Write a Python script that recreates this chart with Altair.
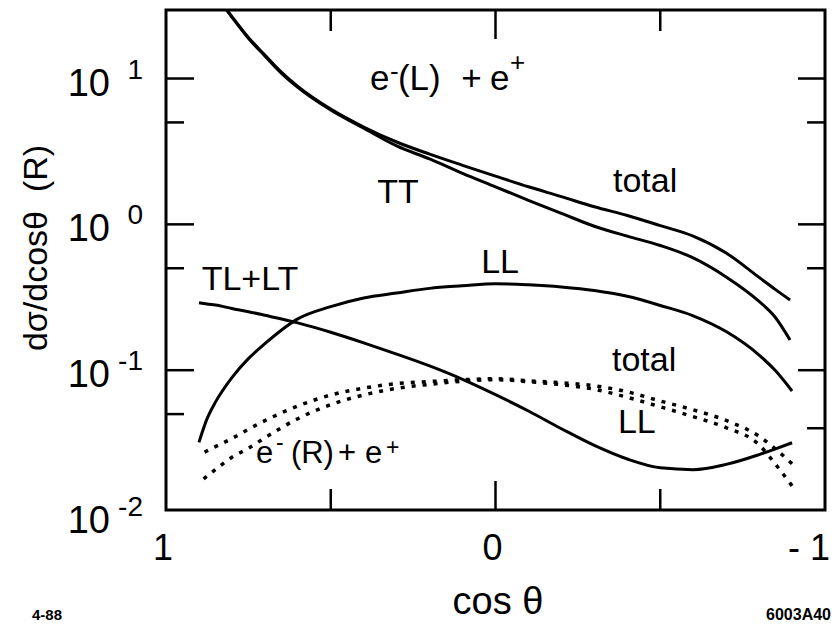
import altair as alt
import pandas as pd

# ---------------- data ----------------
# e-(L) + e+ : total and TT (they leave the top of the frame near cos=0.82)
cos_L_top = [0.815, 0.8, 0.75, 0.7, 0.65, 0.6, 0.5, 0.4, 0.3, 0.2, 0.1, 0.0, -0.1, -0.2,
             -0.3, -0.4, -0.5, -0.6, -0.7, -0.8, -0.85, -0.894]
total_L = [29.5, 26.6, 19.1, 14.5, 11.07, 8.83, 6.17, 4.65, 3.67, 3.03, 2.54, 2.14, 1.81, 1.55,
           1.32, 1.15, 0.98, 0.83, 0.636, 0.433, 0.357, 0.303]
tt_L = [29.3, 26.4, 18.9, 14.3, 10.9, 8.7, 6.08, 4.56, 3.45, 2.81, 2.24, 1.81, 1.46, 1.19,
        0.97, 0.83, 0.716, 0.589, 0.436, 0.296, 0.229, 0.161]

cos_grid = [0.9, 0.875, 0.85, 0.8, 0.75, 0.7, 0.6, 0.5, 0.4, 0.3, 0.2, 0.1, 0.0,
            -0.1, -0.2, -0.3, -0.4, -0.5, -0.6, -0.7, -0.8, -0.85, -0.9]
ll_L = [0.032, 0.0467, 0.0604, 0.089, 0.120, 0.152, 0.225, 0.273, 0.313, 0.338, 0.364,
        0.379, 0.392, 0.385, 0.372, 0.352, 0.321, 0.278, 0.236, 0.184, 0.127, 0.099, 0.072]
tl_lt_L = [0.29, 0.284, 0.280, 0.265, 0.252, 0.238, 0.211, 0.182, 0.154, 0.129, 0.107,
           0.0866, 0.068, 0.0525, 0.0397, 0.0305, 0.0246, 0.0214, 0.0208, 0.0226, 0.0264,
           0.0289, 0.0318]
# e-(R) + e+ : total and LL (dotted)
total_R = [0.026, 0.028, 0.0299, 0.034, 0.0394, 0.0451, 0.0568, 0.0676, 0.0753, 0.081,
           0.0836, 0.086, 0.0874, 0.0847, 0.082, 0.0782, 0.0711, 0.0615, 0.0535, 0.0452,
           0.0352, 0.0288, 0.0228]
ll_R = [0.0169, 0.0188, 0.0208, 0.0253, 0.0291, 0.0344, 0.0465, 0.0581, 0.0676, 0.0751,
        0.080, 0.0841, 0.086, 0.0834, 0.0795, 0.074, 0.0652, 0.0561, 0.048, 0.0404,
        0.0308, 0.0226, 0.0161]

# axis ticks / labels
x_major = [0.0]
x_minor = [0.5, -0.5]
y_major = [10, 1, 0.1]
y_minor_left = [5, 0.5, 0.05]
y_minor_right = [5, 0.5, 0.04]
y_label_values = [10, 1, 0.1, 0.01]
y_label_exps = ["1", "0", "-1", "-2"]

# curve annotations (centre x in cos, baseline in value)
curve_label_text = ["TT", "total", "LL", "TL+LT", "total", "LL"]
curve_label_cos = [0.296, -0.454, -0.014, 0.745, -0.451, -0.429]
curve_label_val = [1.394, 1.66, 0.4605, 0.352, 0.0992, 0.0372]

# reaction labels, split into pieces (left edge in cos, baseline in value)
upper_text = ["e", "(L)", "+", "e"]
upper_cos = [0.381, 0.296, 0.104, 0.0167]
upper_val = [8.34, 8.34, 8.34, 8.34]
upper_sup_text = ["-", "+"]
upper_sup_cos = [0.320, -0.044]
upper_sup_val = [11.08, 12.78]

lower_text = ["e", "(R)", "+", "e"]
lower_cos = [0.727, 0.621, 0.478, 0.396]
lower_val = [0.0231, 0.0231, 0.0231, 0.0231]
lower_sup_text = ["-", "+"]
lower_sup_cos = [0.666, 0.332]
lower_sup_val = [0.0318, 0.0293]

# ---------------- tables ----------------
rows = []
for name, xs_, ys_, style in [
    ("total L", cos_L_top, total_L, "solid"),
    ("TT L", cos_L_top, tt_L, "solid"),
    ("LL L", cos_grid, ll_L, "solid"),
    ("TL+LT L", cos_grid, tl_lt_L, "solid"),
    ("total R", cos_grid, total_R, "dot"),
    ("LL R", cos_grid, ll_R, "dot"),
]:
    for c, v in zip(xs_, ys_):
        rows.append({"cos": c, "value": v, "curve": name, "style": style})
df = pd.DataFrame(rows)

FONT = "Liberation Sans"
W, H = 659, 500

xs = alt.Scale(domain=[-1, 1], reverse=True, nice=False, zero=False)
ys = alt.Scale(type="log", domain=[0.011, 29.5], nice=False)
X = alt.X("cos:Q", scale=xs, axis=None)
Y = alt.Y("value:Q", scale=ys, axis=None)

solid = alt.Chart(df).transform_filter("datum.style == 'solid'").mark_line(
    color="black", strokeWidth=3, interpolate="monotone", clip=True
).encode(x=X, y=Y, detail="curve:N", order="cos:Q")

dotted = alt.Chart(df).transform_filter("datum.style == 'dot'").mark_line(
    color="black", strokeWidth=3.5, strokeDash=[4, 7], strokeCap="butt",
    interpolate="monotone", clip=True
).encode(x=X, y=Y, detail="curve:N", order="cos:Q")

# ticks (inside the frame)
def xticks(vals, length):
    d = pd.DataFrame({"cos": vals})
    top = alt.Chart(d).mark_rule(color="black", strokeWidth=2.5).encode(
        x=X, y=alt.value(0), y2=alt.value(length))
    bot = alt.Chart(d).mark_rule(color="black", strokeWidth=2.5).encode(
        x=X, y=alt.value(H), y2=alt.value(H - length))
    return [top, bot]

def yticks(vals, x0, x1):
    d = pd.DataFrame({"value": vals})
    return alt.Chart(d).mark_rule(color="black", strokeWidth=2.5).encode(
        y=Y, x=alt.value(x0), x2=alt.value(x1))

tick_layers = (xticks(x_major, 29) + xticks(x_minor, 21) + [
    yticks(y_major, 0, 28), yticks(y_minor_left, 0, 18),
    yticks(y_major, W, W - 27), yticks(y_minor_right, W, W - 18)])

# y tick labels
ylab_df = pd.DataFrame({"value": y_label_values, "exp": y_label_exps})
ylab_ten = alt.Chart(ylab_df).mark_text(
    font=FONT, fontSize=38, align="right", baseline="alphabetic", dy=17, color="black"
).encode(y=Y, x=alt.value(-56), text=alt.value("10"))
ylab_exp = alt.Chart(ylab_df).mark_text(
    font=FONT, fontSize=28, align="right", baseline="alphabetic", dy=0, color="black"
).encode(y=Y, x=alt.value(-23), text="exp:N")

# x tick labels
xlab_df = pd.DataFrame({"cos": [1, 0, -1], "lab": ["1", "0", "- 1"]})
xlab_a = alt.Chart(xlab_df).transform_filter("datum.cos >= 0").mark_text(
    font=FONT, fontSize=36, align="center", baseline="alphabetic", color="black", dx=-3
).encode(x=X, y=alt.value(550), text="lab:N")
xlab_b = alt.Chart(xlab_df).transform_filter("datum.cos < 0").mark_text(
    font=FONT, fontSize=36, align="right", baseline="alphabetic", color="black", dx=5
).encode(x=X, y=alt.value(550), text="lab:N")

# curve labels
cl_df = pd.DataFrame({"t": curve_label_text, "cos": curve_label_cos, "value": curve_label_val})
curve_labels = alt.Chart(cl_df).mark_text(
    font=FONT, fontSize=34, align="center", baseline="alphabetic", color="black"
).encode(x=X, y=Y, text="t:N")

def pieces(texts, cs, vs, size, baseline="alphabetic"):
    d = pd.DataFrame({"t": texts, "cos": cs, "value": vs})
    return alt.Chart(d).mark_text(
        font=FONT, fontSize=size, align="left", baseline=baseline, color="black"
    ).encode(x=X, y=Y, text="t:N")

upper_main = pieces(upper_text, upper_cos, upper_val, 35)
upper_sup = pieces(upper_sup_text, upper_sup_cos, upper_sup_val, 26, "middle")
lower_main = pieces(lower_text, lower_cos, lower_val, 31)
lower_sup = pieces(lower_sup_text, lower_sup_cos, lower_sup_val, 23, "middle")

# titles and corner notes
one = pd.DataFrame({"k": [0]})
ytitle = alt.Chart(one).mark_text(
    font=FONT, fontSize=34, angle=270, align="center", baseline="alphabetic", color="black"
).encode(x=alt.value(-119), y=alt.value(238), text=alt.value("dσ/dcosθ\u00a0 (R)"))
xtitle = alt.Chart(one).mark_text(
    font=FONT, fontSize=38, align="center", baseline="alphabetic", color="black"
).encode(x=alt.value(332), y=alt.value(604), text=alt.value("cos θ"))
note_l = alt.Chart(one).mark_text(
    font=FONT, fontSize=15, fontWeight="bold", align="left", baseline="alphabetic", color="black"
).encode(x=alt.value(-134), y=alt.value(610), text=alt.value("4-88"))
note_r = alt.Chart(one).mark_text(
    font=FONT, fontSize=16, fontWeight="bold", align="right", baseline="alphabetic", color="black"
).encode(x=alt.value(665), y=alt.value(610), text=alt.value("6003A40"))

chart = alt.layer(
    solid, dotted, *tick_layers, ylab_ten, ylab_exp, xlab_a, xlab_b, curve_labels,
    upper_main, upper_sup, lower_main, lower_sup, ytitle, xtitle, note_l, note_r
).properties(
    width=W, height=H,
    autosize=alt.AutoSizeParams(type="none"),
    padding={"left": 158, "top": 2, "right": 7, "bottom": 114},
).configure_view(stroke="black", strokeWidth=3)

chart.save("out.html", embed_options={"renderer": "svg", "actions": False})
